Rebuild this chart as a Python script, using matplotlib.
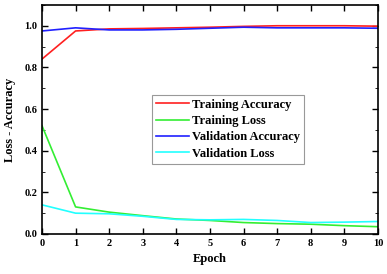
import matplotlib
matplotlib.use('Agg')
import matplotlib.pyplot as plt
from matplotlib.ticker import MultipleLocator

epochs = [0, 1, 2, 3, 4, 5, 6, 7, 8, 9, 10]
train_acc = [0.84, 0.975, 0.985, 0.987, 0.99, 0.993, 0.997, 1.0, 1.0, 1.0, 0.998]
train_loss = [0.52, 0.13, 0.105, 0.088, 0.072, 0.065, 0.055, 0.05, 0.047, 0.04, 0.035]
val_acc = [0.975, 0.99, 0.98, 0.98, 0.983, 0.988, 0.993, 0.99, 0.99, 0.99, 0.988]
val_loss = [0.14, 0.10, 0.097, 0.085, 0.07, 0.068, 0.07, 0.065, 0.055, 0.057, 0.06]

plt.rcParams['font.family'] = ['Liberation Serif', 'DejaVu Serif']
plt.rcParams['font.weight'] = 'bold'

fig = plt.figure(figsize=(3.87, 2.74), dpi=100)
ax = fig.add_axes([0.1085, 0.146, 0.868, 0.836])

ax.plot(epochs, train_acc, color='#ff2020', lw=1.2, label='Training Accuracy')
ax.plot(epochs, train_loss, color='#33ee33', lw=1.2, label='Training Loss')
ax.plot(epochs, val_acc, color='#2020ff', lw=1.2, label='Validation Accuracy')
ax.plot(epochs, val_loss, color='#22ffff', lw=1.2, label='Validation Loss')

ax.set_xlim(0, 10)
ax.set_ylim(0, 1.1)
ax.xaxis.set_major_locator(MultipleLocator(1))
ax.yaxis.set_major_locator(MultipleLocator(0.2))
ax.yaxis.set_minor_locator(MultipleLocator(0.1))
ax.tick_params(direction='in', top=True, right=True, labelsize=7.5, width=1, length=4)
ax.tick_params(which='minor', direction='in', right=True, length=2)
for lab in ax.get_xticklabels() + ax.get_yticklabels():
    lab.set_fontweight('bold')
for s in ax.spines.values():
    s.set_linewidth(1.2)

ax.set_xlabel('Epoch', fontsize=9, fontweight='bold')
ax.set_ylabel('Loss - Accuracy', fontsize=9, fontweight='bold', labelpad=6)

leg = ax.legend(loc='lower left', bbox_to_anchor=(0.31, 0.28), fontsize=9,
                fancybox=False, framealpha=1, edgecolor='#999999',
                handlelength=2.6, borderpad=0.3, labelspacing=0.35,
                handletextpad=0.3)
leg.get_frame().set_linewidth(0.8)

fig.savefig('out.png', dpi=100)
